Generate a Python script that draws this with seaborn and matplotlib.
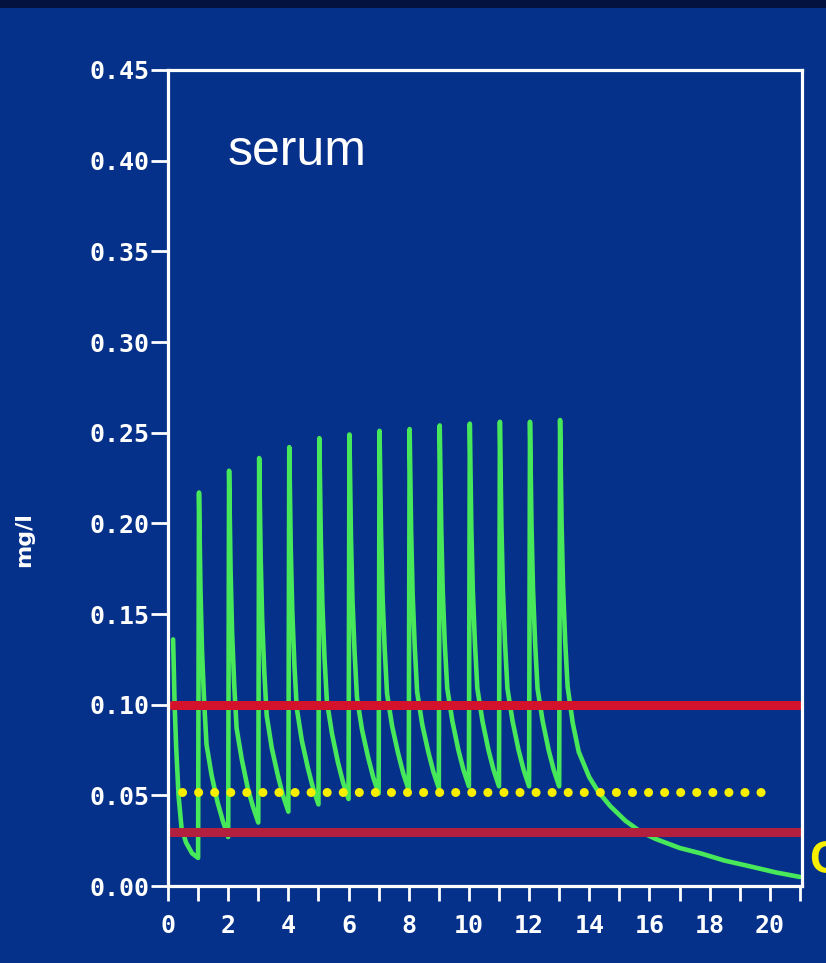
import pandas as pd
import matplotlib.pyplot as plt
import seaborn as sns
from matplotlib.patches import Rectangle
from matplotlib.ticker import MultipleLocator

# dosing (h) and serum levels (mg/l)
dose_times = [1, 2, 3, 4, 5, 6, 7, 8, 9, 10, 11, 12, 13]
trough_vals = [0.0155, 0.027, 0.035, 0.041, 0.045, 0.048, 0.051, 0.053, 0.054, 0.055, 0.055, 0.055, 0.055]
peak_vals = [0.217, 0.229, 0.236, 0.242, 0.247, 0.249, 0.251, 0.252, 0.254, 0.255, 0.256, 0.256, 0.257]

# level at fixed delays after doses 1-12
offsets = [0.08, 0.13, 0.20, 0.28, 0.45, 0.65, 0.82]
c_008 = [0.163, 0.174, 0.181, 0.186, 0.190, 0.193, 0.195, 0.196, 0.198, 0.198, 0.199, 0.199]
c_013 = [0.130, 0.140, 0.147, 0.152, 0.156, 0.158, 0.160, 0.161, 0.163, 0.163, 0.164, 0.164]
c_020 = [0.102, 0.111, 0.118, 0.122, 0.126, 0.129, 0.131, 0.132, 0.133, 0.134, 0.134, 0.134]
c_028 = [0.078, 0.087, 0.094, 0.098, 0.102, 0.104, 0.106, 0.107, 0.109, 0.109, 0.109, 0.109]
c_045 = [0.061, 0.070, 0.076, 0.080, 0.084, 0.086, 0.088, 0.089, 0.091, 0.091, 0.091, 0.091]
c_065 = [0.046, 0.054, 0.061, 0.065, 0.068, 0.071, 0.073, 0.074, 0.075, 0.075, 0.075, 0.075]
c_082 = [0.036, 0.044, 0.050, 0.054, 0.057, 0.060, 0.062, 0.063, 0.064, 0.064, 0.064, 0.064]

# first hour (before dose 1) and wash-out after the last dose
first_t = [0.17, 0.22, 0.27, 0.35, 0.45, 0.60, 0.80]
first_c = [0.136, 0.100, 0.077, 0.050, 0.032, 0.024, 0.018]
tail_t = [13.08, 13.13, 13.20, 13.28, 13.45, 13.65, 13.85, 14.0, 14.3, 14.7, 15.2, 15.7,
          16.2, 17.0, 17.7, 18.5, 19.3, 20.2, 21.0]
tail_c = [0.200, 0.165, 0.135, 0.110, 0.090, 0.074, 0.066, 0.060, 0.052, 0.044, 0.036, 0.030,
          0.026, 0.021, 0.018, 0.014, 0.011, 0.0075, 0.005]

upper_level = 0.10
lower_level = 0.03
dotted_level = 0.052

x_ticks = [0, 2, 4, 6, 8, 10, 12, 14, 16, 18, 20]
y_ticks = [0.00, 0.05, 0.10, 0.15, 0.20, 0.25, 0.30, 0.35, 0.40, 0.45]

BG = "#05318a"
GREEN = "#47e85a"
YELLOW = "#f7ee00"

# build the curve
decay_cols = [c_008, c_013, c_020, c_028, c_045, c_065, c_082]
t_pts = list(first_t)
c_pts = list(first_c)
for i, t0 in enumerate(dose_times):
    t_pts += [t0, t0 + 0.03]
    c_pts += [trough_vals[i], peak_vals[i]]
    if i < len(c_008):
        for off, col in zip(offsets, decay_cols):
            t_pts.append(t0 + off)
            c_pts.append(col[i])
t_pts += tail_t
c_pts += tail_c
df = pd.DataFrame({"hours": t_pts, "mg_l": c_pts})

sns.set_theme(style="ticks")
plt.rcParams["font.family"] = ["DejaVu Sans"]

fig = plt.figure(figsize=(8.26, 9.63), dpi=100)
fig.patch.set_facecolor(BG)
fig.add_artist(Rectangle((0, 1 - 8 / 963), 1, 8 / 963, transform=fig.transFigure,
                         facecolor="#03123f", edgecolor="none"))

ax = fig.add_axes([168 / 826, 1 - 886 / 963, 634 / 826, 816 / 963])
ax.set_facecolor(BG)

sns.lineplot(data=df, x="hours", y="mg_l", sort=False, estimator=None,
             color=GREEN, lw=3.3, legend=False, ax=ax, zorder=2)

# yellow dotted reference
ax.plot([0.45, 20.15], [dotted_level, dotted_level], color=YELLOW, lw=6.5,
        ls=(0, (0.01, 1.77)), dash_capstyle="round", zorder=3)
ax.axhline(upper_level, xmin=0.006, xmax=0.996, color="#d5122b", lw=6.5, zorder=4)
ax.axhline(lower_level, xmin=0.002, xmax=0.996, color="#b3203f", lw=6.5, zorder=4)

ax.set_xlim(0, 21.07)
ax.set_ylim(0, 0.45)
ax.set_xticks(x_ticks)
ax.set_xticklabels([str(v) for v in x_ticks])
ax.xaxis.set_minor_locator(MultipleLocator(1))
ax.set_yticks(y_ticks)
ax.set_yticklabels([f"{v:.2f}" for v in y_ticks])

ax.tick_params(axis="x", which="both", direction="out", length=11, width=2,
               color="white", pad=9, labelsize=18, labelcolor="white")
ax.tick_params(axis="y", direction="out", length=12, width=2,
               color="white", pad=1.5, labelsize=18, labelcolor="white")
for lab in ax.get_xticklabels() + ax.get_yticklabels():
    lab.set_family("DejaVu Sans Mono")
    lab.set_weight("bold")

for sp in ax.spines.values():
    sp.set_color("white")
    sp.set_linewidth(2.3)
    sp.set_zorder(5)

ax.set_xlabel("")
ax.set_ylabel("mg/l", color="white", fontsize=16, weight="bold", labelpad=0)
ax.yaxis.set_label_coords(-0.211, 0.425)

ax.text(0.0946, 0.8836, "serum", transform=ax.transAxes, color="white",
        fontsize=36, family="Liberation Sans", va="baseline", ha="left")
fig.text(809 / 826, 1 - 873 / 963, "C", color=YELLOW, fontsize=33,
         family="Liberation Sans", weight="bold", va="baseline", ha="left")

fig.savefig("out.png", dpi=100, facecolor=fig.get_facecolor())
